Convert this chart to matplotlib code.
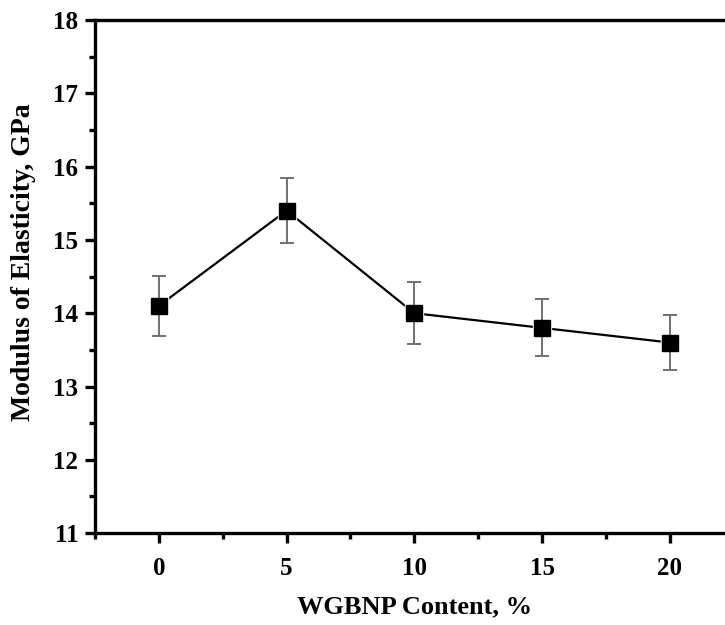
import matplotlib
matplotlib.use("Agg")
import matplotlib.pyplot as plt
from matplotlib.ticker import MultipleLocator

# data
content = [0, 5, 10, 15, 20]
modulus = [14.1, 15.4, 14.0, 13.8, 13.6]
err = [0.41, 0.44, 0.42, 0.39, 0.38]

plt.rcParams['font.family'] = ['Liberation Serif', 'DejaVu Serif']
plt.rcParams['font.weight'] = 'bold'

fig = plt.figure(figsize=(7.25, 6.25), dpi=100)
# right spine falls just outside the picture, as in the reference
ax = fig.add_axes([0.131, 0.147, 0.881, 0.821])

# line with white-edged markers to leave a small gap at each point
ax.plot(content, modulus, color='black', lw=1.6, marker='s', ms=11,
        mfc='white', mec='white', mew=2.5, zorder=2)
ax.errorbar(content, modulus, yerr=err, fmt='none', ecolor='#707070',
            elinewidth=1.4, capsize=5, capthick=1.4, zorder=3)
ax.plot(content, modulus, ls='none', marker='s', ms=11, color='black',
        mec='black', zorder=4)

ax.set_xlim(-2.5, 22.5)
ax.set_ylim(11, 18)
ax.set_xticks([0, 5, 10, 15, 20])
ax.xaxis.set_minor_locator(MultipleLocator(2.5))
ax.yaxis.set_major_locator(MultipleLocator(1))
ax.yaxis.set_minor_locator(MultipleLocator(0.5))

for s in ax.spines.values():
    s.set_linewidth(2.4)

ax.tick_params(which='major', direction='out', length=7, width=2.4,
               labelsize=18, pad=5)
ax.tick_params(which='minor', direction='out', length=4, width=2.4)
ax.tick_params(axis='x', pad=10)

ax.set_xlabel("WGBNP Content, %", fontsize=19, fontweight='bold')
ax.set_ylabel("Modulus of Elasticity, GPa", fontsize=20, fontweight='bold')
ax.xaxis.set_label_coords(0.5, -0.122)
ax.yaxis.set_label_coords(-0.092, 0.528)

fig.savefig("out.png", dpi=100)
